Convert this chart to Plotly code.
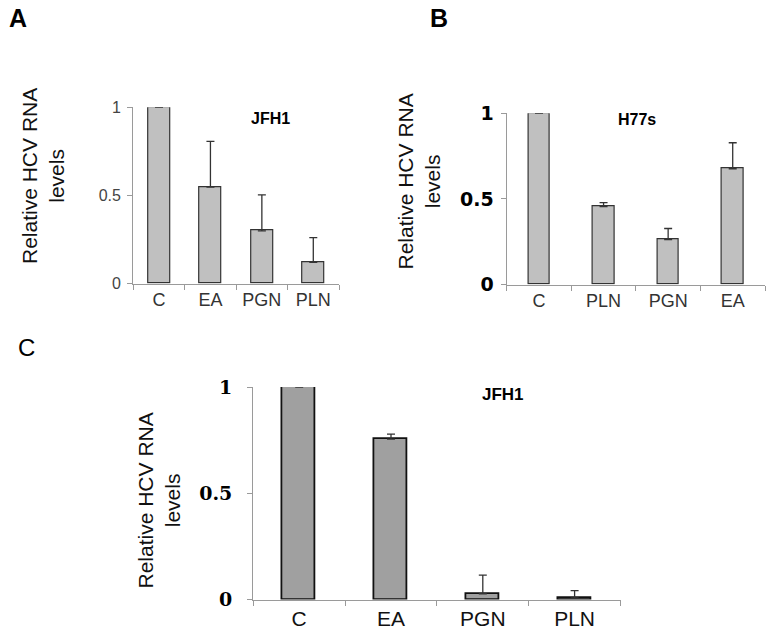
import plotly.graph_objects as go

W, H = 775, 635

# Panel A (JFH1)
cats_a = ["C", "EA", "PGN", "PLN"]
vals_a = [1.0, 0.547, 0.30, 0.121]
err_a = [0.0, 0.26, 0.203, 0.14]

# Panel B (H77s)
cats_b = ["C", "PLN", "PGN", "EA"]
vals_b = [1.0, 0.455, 0.262, 0.676]
err_b = [0.0, 0.023, 0.065, 0.152]

# Panel C (JFH1)
cats_c = ["C", "EA", "PGN", "PLN"]
vals_c = [1.0, 0.755, 0.027, 0.008]
err_c = [0.0, 0.023, 0.088, 0.034]

y_ticks = [0, 0.5, 1]
y_ticktext = ["0", "0.5", "1"]
y_title = "Relative HCV RNA<br>levels"

fig = go.Figure()

def add_bar(cats, vals, errs, xa, ya, fill, line_c, line_w, bw):
    fig.add_trace(go.Bar(
        x=cats, y=vals, xaxis=xa, yaxis=ya, width=bw,
        marker=dict(color=fill, line=dict(color=line_c, width=line_w)),
        error_y=dict(type="data", array=errs, arrayminus=[0] * len(errs),
                     symmetric=False, color="#333333", thickness=1.3, width=4),
        cliponaxis=False, showlegend=False, hoverinfo="x+y",
    ))

add_bar(cats_a, vals_a, err_a, "x", "y", "#c0c0c0", "#333333", 1.2, 0.43)
add_bar(cats_b, vals_b, err_b, "x2", "y2", "#c0c0c0", "#333333", 1.2, 0.33)
add_bar(cats_c, vals_c, err_c, "x3", "y3", "#a0a0a0", "#111111", 1.8, 0.36)

def px_x(p):
    return p / W

def px_y(p):
    return 1 - p / H

axis_line = "#9a9a9a"

def xaxis(dom, anchor, font):
    return dict(domain=dom, anchor=anchor, type="category", range=[-0.5, 3.5],
                showline=True, linecolor=axis_line, linewidth=1.3,
                ticks="outside", tickson="boundaries", ticklen=5,
                tickcolor=axis_line, tickwidth=1.2, showgrid=False,
                zeroline=False, tickfont=font, fixedrange=True, automargin=False)

def yaxis(dom, anchor, font, standoff):
    return dict(domain=dom, anchor=anchor, range=[0, 1],
                tickvals=y_ticks, ticktext=y_ticktext,
                showline=True, linecolor=axis_line, linewidth=1.3,
                ticks="outside", ticklen=5, tickcolor=axis_line, tickwidth=1.2,
                showgrid=False, zeroline=False, tickfont=font,
                ticklabelstandoff=standoff, fixedrange=True, automargin=False)

fig.update_layout(
    width=W, height=H, margin=dict(l=0, r=0, t=0, b=0, pad=0, autoexpand=False),
    paper_bgcolor="white", plot_bgcolor="white",
    bargap=0,
    xaxis=xaxis([px_x(133.3), px_x(339)], "y",
                dict(family="Liberation Sans, Arial", size=18, color="#333333")),
    yaxis=yaxis([px_y(283.7), px_y(107.3)], "x",
                dict(family="Liberation Sans, Arial", size=16, color="#444444"), 3),
    xaxis2=xaxis([px_x(506.7), px_x(765)], "y2",
                 dict(family="Liberation Sans, Arial", size=18, color="#333333")),
    yaxis2=yaxis([px_y(284.5), px_y(113.3)], "x2",
                 dict(family="DejaVu Sans", size=19, color="#000000", weight="bold"), 3),
    xaxis3=xaxis([px_x(253.3), px_x(620.5)], "y3",
                 dict(family="Liberation Sans, Arial", size=21, color="#111111")),
    yaxis3=yaxis([px_y(599.5), px_y(387)], "x3",
                 dict(family="DejaVu Serif", size=19, color="#000000", weight="bold"), 11),
)

annots = [
    dict(text="A", x=18, y=18, font=dict(family="Liberation Sans, Arial", size=25, color="#000000", weight="bold")),
    dict(text="B", x=439, y=18, font=dict(family="Liberation Sans, Arial", size=25, color="#000000", weight="bold")),
    dict(text="C", x=27, y=347, font=dict(family="Liberation Sans, Arial", size=24, color="#000000")),
    dict(text="JFH1", x=270, y=118, font=dict(family="Liberation Sans, Arial", size=16, color="#000000", weight="bold")),
    dict(text="H77s", x=637, y=119, font=dict(family="Liberation Sans, Arial", size=16, color="#000000", weight="bold")),
    dict(text="JFH1", x=503, y=394, font=dict(family="Liberation Sans, Arial", size=17, color="#000000", weight="bold")),
    dict(text=y_title, x=43, y=176, textangle=-90, font=dict(family="Liberation Sans, Arial", size=21, color="#111111")),
    dict(text=y_title, x=418.5, y=182, textangle=-90, font=dict(family="Liberation Sans, Arial", size=21, color="#111111")),
    dict(text=y_title, x=158.5, y=501, textangle=-90, font=dict(family="Liberation Sans, Arial", size=21, color="#111111")),
]
for a in annots:
    fig.add_annotation(text=a["text"], x=px_x(a["x"]), y=px_y(a["y"]),
                       xref="paper", yref="paper", xanchor="center", yanchor="middle",
                       showarrow=False, textangle=a.get("textangle", 0), font=a["font"])

fig.write_html("out.html", config={"displayModeBar": False},
               post_script="document.body.style.margin='0px';document.body.style.overflow='hidden';")
